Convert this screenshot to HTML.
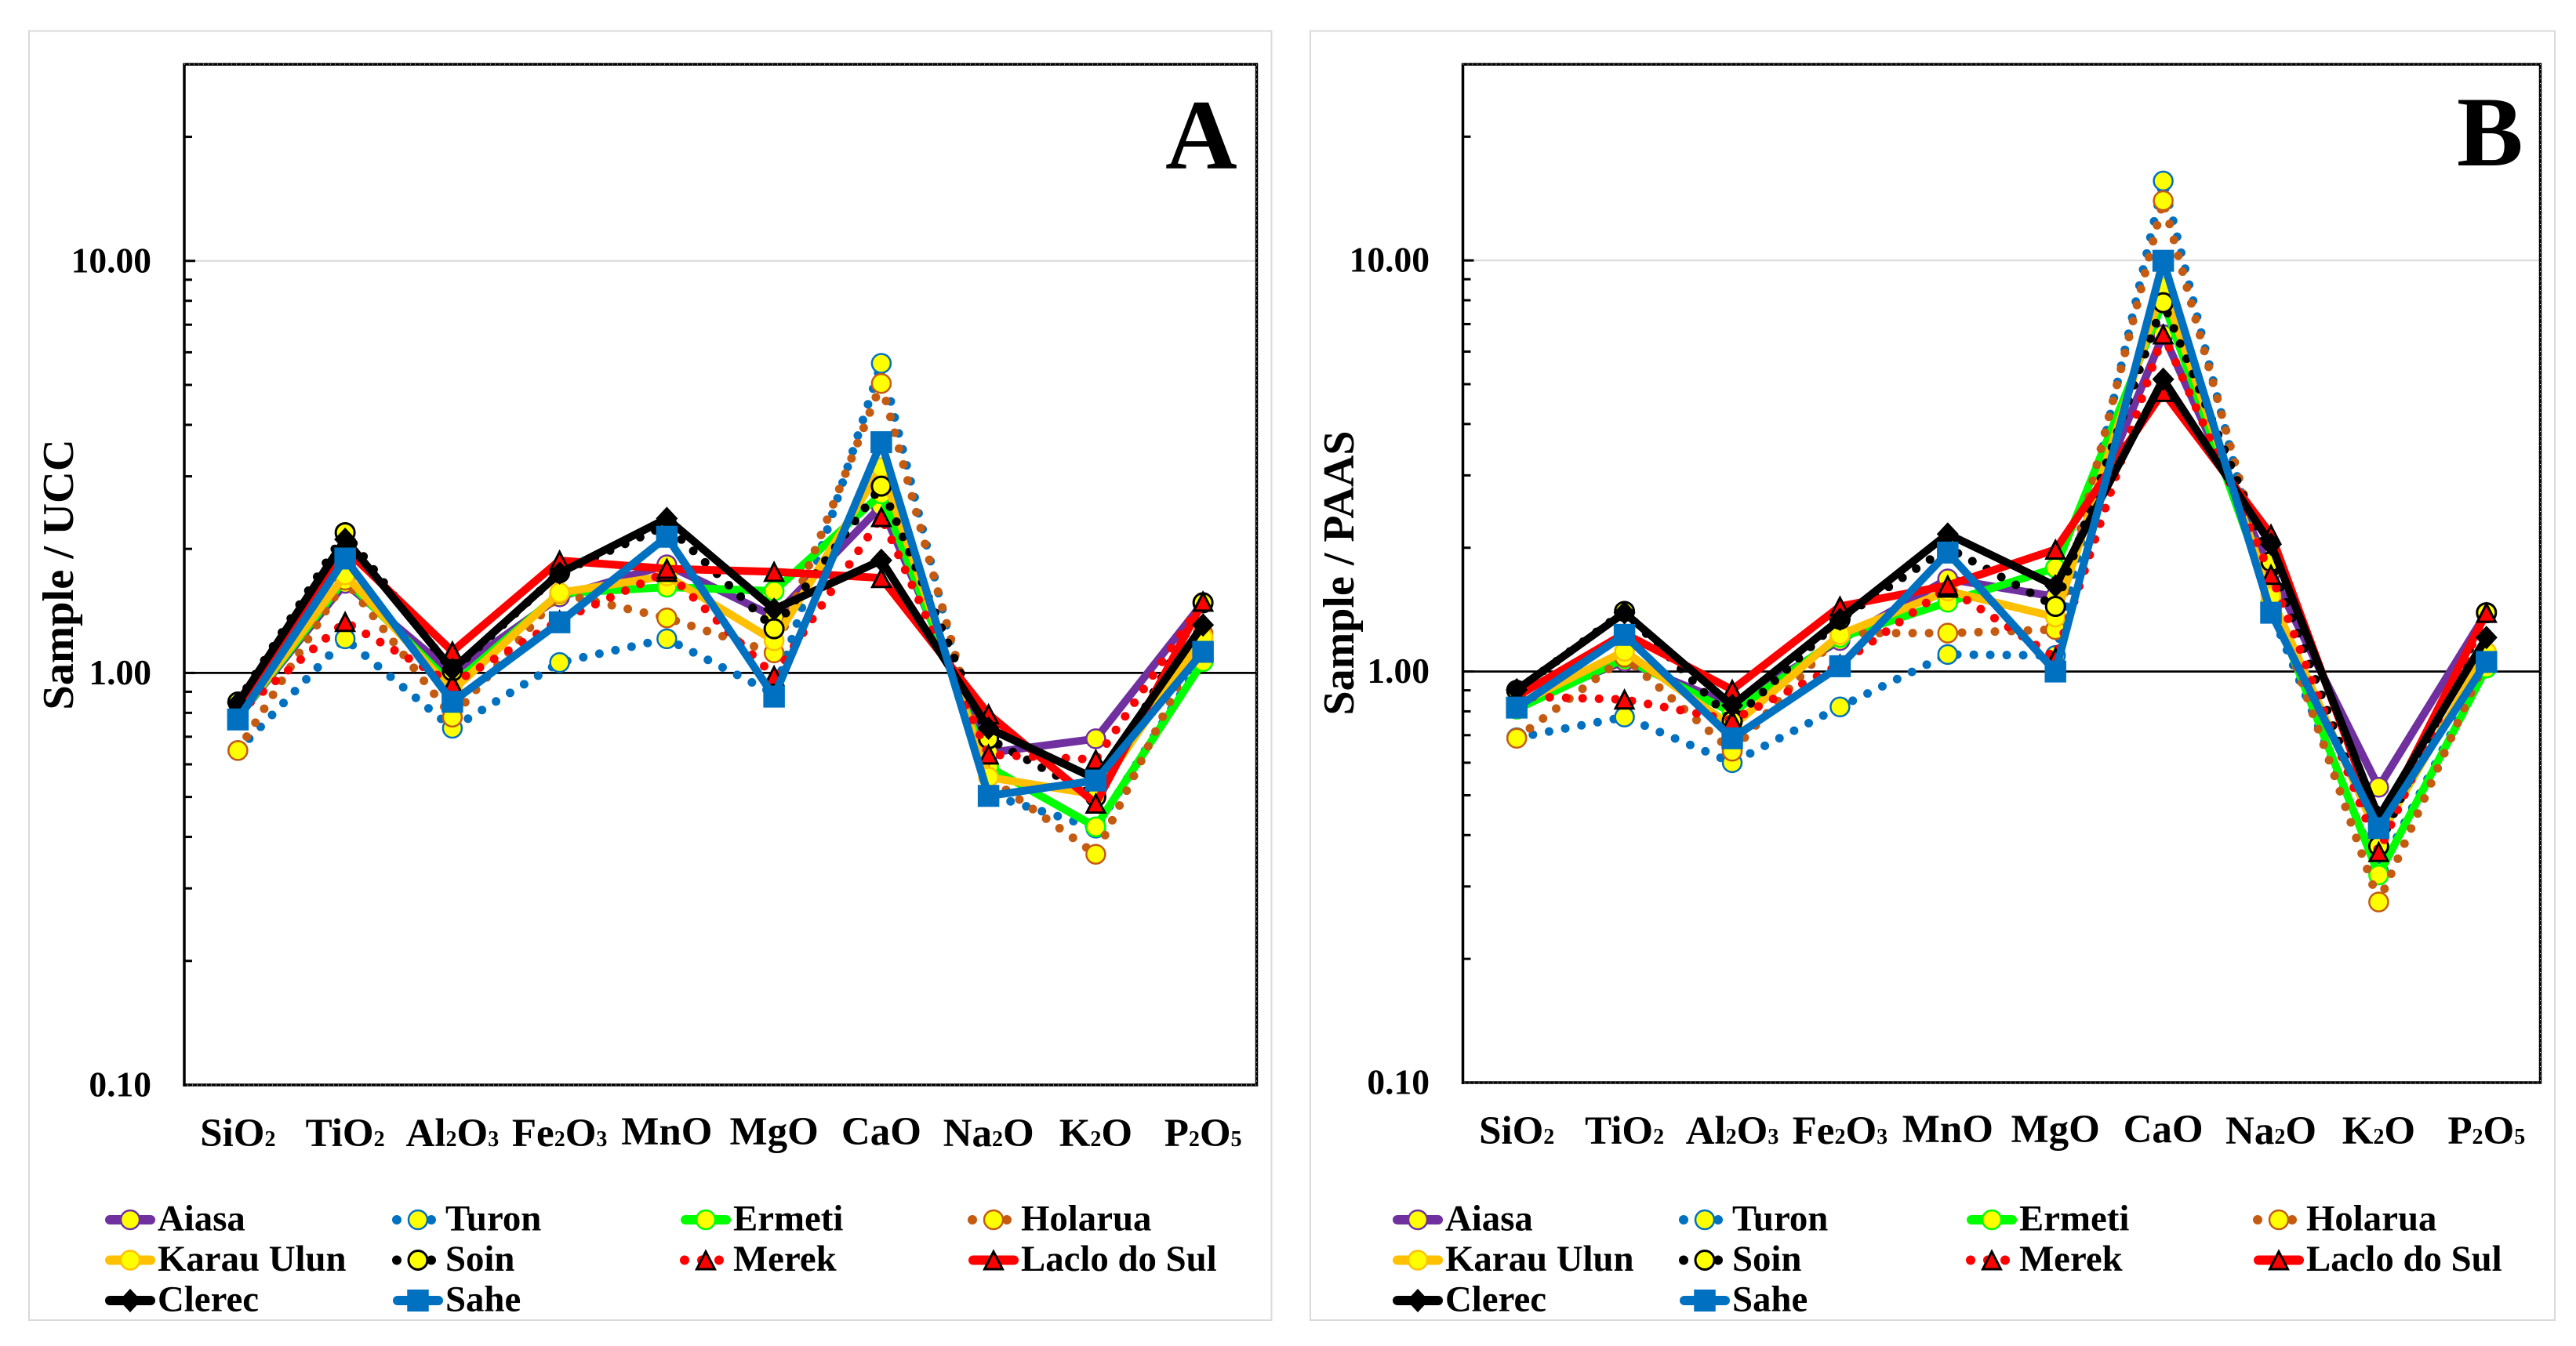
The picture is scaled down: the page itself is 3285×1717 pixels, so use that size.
<!DOCTYPE html>
<html lang="en">
<head>
<meta charset="utf-8">
<title>Sample / UCC and Sample / PAAS major oxide diagrams</title>
<style>
html,body{margin:0;padding:0;background:#fff;}
svg{display:block;}
text{font-family:"Liberation Serif","Times New Roman",serif;font-weight:bold;fill:#000;}
</style>
</head>
<body>
<svg id="figure" xmlns="http://www.w3.org/2000/svg" width="3285" height="1717" viewBox="0 0 3285 1717">
  <rect x="0" y="0" width="3285" height="1717" fill="#ffffff"/>
  <rect x="37" y="39.5" width="1584.5" height="1644.5" fill="#ffffff" stroke="#d9d9d9" stroke-width="2"/>
  <rect x="1671" y="39.5" width="1587" height="1644.5" fill="#ffffff" stroke="#d9d9d9" stroke-width="2"/>
  <g id="panel-a"></g>
  <g id="panel-b"></g>
  <text transform="translate(93 733) rotate(-90)" text-anchor="middle" font-size="56.5">Sample / UCC</text>
  <text transform="translate(1726 731) rotate(-90)" text-anchor="middle" font-size="56">Sample / PAAS</text>
  <text x="1486" y="215" font-size="127">A</text>
  <text x="3133" y="211" font-size="127">B</text>
</svg>
<script>
// Shared categories and labels
const categories = ['SiO₂','TiO₂','Al₂O₃','Fe₂O₃','MnO','MgO','CaO','Na₂O','K₂O','P₂O₅'];
const seriesNames = ['Aiasa','Turon','Ermeti','Holarua','Karau Ulun','Soin','Merek','Laclo do Sul','Clerec','Sahe'];
const yTickLabels = ['0.10','1.00','10.00'];
const yTickValues = [0.1,1,10];
const yMinorTicks = [0.2,0.3,0.4,0.5,0.6,0.7,0.8,0.9,2,3,4,5,6,7,8,9,20];

// Panel A: Sample / UCC
const aiasaA   = [0.78,1.65,1.00,1.53,1.83,1.37,2.54,0.64,0.692,1.48];
const turonA   = [0.648,1.21,0.734,1.06,1.21,0.89,5.64,0.507,0.42,1.08];
const ermetiA  = [0.78,1.69,0.935,1.56,1.615,1.58,2.72,0.592,0.423,1.065];
const holaruaA = [0.648,1.68,0.781,1.56,1.36,1.118,5.04,0.558,0.363,1.245];
const karauA   = [0.78,1.73,0.906,1.566,1.72,1.197,3.15,0.558,0.507,1.22];
const soinA    = [0.85,2.19,1.01,1.75,2.28,1.28,2.84,0.692,0.50,1.48];
const merekA   = [0.80,1.33,0.942,1.34,1.76,0.984,2.39,0.634,0.616,1.49];
const lacloA   = [0.83,2.0,1.128,1.874,1.79,1.76,1.70,0.794,0.482,1.49];
const clerecA  = [0.845,2.11,1.02,1.747,2.37,1.427,1.876,0.734,0.553,1.307];
const saheA    = [0.771,1.895,0.851,1.327,2.14,0.876,3.63,0.503,0.548,1.125];

// Panel B: Sample / PAAS
const aiasaB   = [0.83,1.06,0.83,1.19,1.68,1.52,6.6,1.75,0.523,1.39];
const turonB   = [0.69,0.775,0.60,0.82,1.10,1.094,15.6,1.4,0.325,1.03];
const ermetiB  = [0.81,1.076,0.795,1.21,1.474,1.786,7.94,1.48,0.32,1.02];
const holaruaB = [0.688,1.084,0.64,1.24,1.24,1.265,13.97,1.54,0.275,1.08];
const karauB   = [0.83,1.12,0.735,1.23,1.57,1.357,8.63,1.52,0.395,1.115];
const soinB    = [0.90,1.40,0.758,1.34,2.0,1.44,7.89,1.85,0.376,1.39];
const merekB   = [0.87,0.855,0.762,1.04,1.6,1.08,6.61,1.72,0.364,1.39];
const lacloB   = [0.87,1.237,0.903,1.44,1.62,1.98,4.79,2.155,0.42,1.39];
const clerecB  = [0.903,1.39,0.827,1.34,2.16,1.615,5.14,2.04,0.442,1.21];
const saheB    = [0.817,1.228,0.688,1.03,1.947,1.0,9.98,1.39,0.416,1.055];

const seriesA = [aiasaA,turonA,ermetiA,holaruaA,karauA,soinA,merekA,lacloA,clerecA,saheA];
const seriesB = [aiasaB,turonB,ermetiB,holaruaB,karauB,soinB,merekB,lacloB,clerecB,saheB];

const SVGNS = 'http://www.w3.org/2000/svg';
function make(tag, attrs, parent) {
  const el = document.createElementNS(SVGNS, tag);
  for (const k in attrs) { el.setAttribute(k, attrs[k]); }
  parent.appendChild(el);
  return el;
}
function slug(s) { return s.toLowerCase().replace(/ /g, '-'); }

function styleFor(i) {
  const dotted = {dash: '0 21', w: 11};
  const solid = {dash: null, w: 10};
  if (i === 0) return Object.assign({color:'#7030a0', kind:'circle', edge:'#7030a0'}, solid);
  if (i === 1) return Object.assign({color:'#0070c0', kind:'circle', edge:'#0070c0'}, dotted);
  if (i === 2) return Object.assign({color:'#00ff00', kind:'circle', edge:'#00ff00'}, solid);
  if (i === 3) return Object.assign({color:'#c55a11', kind:'circle', edge:'#c55a11'}, dotted);
  if (i === 4) return Object.assign({color:'#ffc000', kind:'circle', edge:'#ffc000'}, solid);
  if (i === 5) return Object.assign({color:'#000000', kind:'circle', edge:'#000000'}, dotted);
  if (i === 6) return Object.assign({color:'#ff0000', kind:'triangle', edge:'#000000'}, dotted);
  if (i === 7) return Object.assign({color:'#ff0000', kind:'triangle', edge:'#000000'}, solid);
  if (i === 8) return Object.assign({color:'#000000', kind:'diamond', edge:'#000000'}, solid);
  return Object.assign({color:'#0070c0', kind:'square', edge:'#0070c0'}, solid);
}

function drawMarker(parent, style, cx, cy) {
  if (style.kind === 'circle') {
    return make('circle', {cx: cx, cy: cy, r: 12, fill: '#ffff00', stroke: style.edge, 'stroke-width': style.edge === '#000000' ? 3 : 2.5}, parent);
  }
  if (style.kind === 'triangle') {
    const pts = cx + ',' + (cy - 11) + ' ' + (cx + 11.5) + ',' + (cy + 11.5) + ' ' + (cx - 11.5) + ',' + (cy + 11.5);
    return make('polygon', {points: pts, fill: '#ff0000', stroke: '#000000', 'stroke-width': 3, 'stroke-linejoin': 'miter'}, parent);
  }
  if (style.kind === 'diamond') {
    const pts = cx + ',' + (cy - 15) + ' ' + (cx + 14) + ',' + cy + ' ' + cx + ',' + (cy + 15) + ' ' + (cx - 14) + ',' + cy;
    return make('polygon', {points: pts, fill: '#000000'}, parent);
  }
  return make('rect', {x: cx - 13.75, y: cy - 14, width: 27.5, height: 28, fill: '#0070c0'}, parent);
}

function categoryLabel(parent, label, cx, baseline) {
  const hasSub = /[₀-₉]/.test(label);
  const t = make('text', {x: cx, y: baseline + (hasSub ? 2 : 0), 'text-anchor': 'middle', 'font-size': 51}, parent);
  let buffer = '';
  function flush() {
    if (buffer) {
      const run = make('tspan', {}, t);
      run.textContent = buffer;
      buffer = '';
    }
  }
  for (const ch of label) {
    const code = ch.codePointAt(0);
    if (code >= 0x2080 && code <= 0x2089) {
      flush();
      const sub = make('tspan', {'font-size': 28}, t);
      sub.textContent = String(code - 0x2080);
    } else {
      buffer += ch;
    }
  }
  flush();
  return t;
}

function drawPanel(root, series, left, right, top, bottom, labelRight, xBaseline, legendX, legendStep) {
  const domainMin = Math.log10(0.1);
  const domainMax = Math.log10(30);
  const yScale = function (v) { return bottom - (Math.log10(v) - domainMin) / (domainMax - domainMin) * (bottom - top); };
  const xScale = function (i) { return left + (i + 0.5) * (right - left) / categories.length; };

  // Gridline at 10 and baseline at 1
  const grid = make('line', {x1: left, x2: right, y1: yScale(10), y2: yScale(10), stroke: '#d9d9d9', 'stroke-width': 2}, root);
  
  

  // Y axis and ticks
  const axisY = make('line', {x1: left, x2: left, y1: top - 1.5, y2: bottom + 2, stroke: '#000', 'stroke-width': 3.5}, root);
  
  

  yMinorTicks.forEach(function (v) {
    const tick = make('line', {x1: left, x2: left + 10, y1: yScale(v), y2: yScale(v), stroke: '#000', 'stroke-width': 3}, root);
    
    
  });
  yTickValues.forEach(function (v, i) {
    const tick = make('line', {x1: left, x2: left + 14, y1: yScale(v), y2: yScale(v), stroke: '#000', 'stroke-width': 3}, root);
    
    
    const label = make('text', {x: labelRight, y: yScale(v) + 14.5, 'text-anchor': 'end', 'font-size': 45.5}, root);
    label.textContent = yTickLabels[i];
    
    
  });

  // Dotted plot-area border: top, right, bottom
  const borderPath = 'M' + left + ' ' + top + 'H' + right + 'V' + bottom + 'H' + left;
  const border = make('path', {d: borderPath, fill: 'none', stroke: '#000', 'stroke-width': 3.5}, root);
  
  
  const borderDots = make('path', {d: borderPath, fill: 'none', stroke: '#fff', 'stroke-width': 1, 'stroke-dasharray': '1 5'}, root);
  
  

  const unity = make('line', {x1: left, x2: right, y1: yScale(1), y2: yScale(1), stroke: '#000', 'stroke-width': 2.8}, root);
  
  

  // Category labels
  categories.forEach(function (c, i) {
    const label = categoryLabel(root, c, xScale(i), xBaseline);
    
    
  });

  // Series
  series.forEach(function (values, s) {
    const st = styleFor(s);
    const g = make('g', {}, root);
    
    
    const pts = values.map(function (v, i) { return xScale(i) + ',' + yScale(v); }).join(' ');
    const attrs = {points: pts, fill: 'none', stroke: st.color, 'stroke-width': st.w, 'stroke-linejoin': 'round', 'stroke-linecap': 'round'};
    if (st.dash) { attrs['stroke-dasharray'] = st.dash; }
    const line = make('polyline', attrs, g);
    
    
    values.forEach(function (v, i) {
      const m = drawMarker(g, st, xScale(i), yScale(v));
      
      
    });
  });

  // Legend
  const rowY = [1556, 1607.5, 1659];
  seriesNames.forEach(function (name, s) {
    const st = styleFor(s);
    const col = s % 4;
    const row = Math.floor(s / 4);
    const cx = legendX + col * legendStep;
    const cy = rowY[row];
    const item = make('g', {}, root);
    
    
    if (st.dash) {
      const d = make('line', {x1: cx - 27, x2: cx + 17.5, y1: cy, y2: cy, stroke: st.color, 'stroke-width': 12, 'stroke-linecap': 'round', 'stroke-dasharray': '0 22'}, item);
      
      
    } else {
      const l = make('line', {x1: cx - 26, x2: cx + 26, y1: cy, y2: cy, stroke: st.color, 'stroke-width': 12, 'stroke-linecap': 'round'}, item);
      
      
    }
    const mk = drawMarker(item, st, cx, cy);
    
    
    const tx = make('text', {x: cx + 35, y: cy + 13.5, 'font-size': 46.8}, item);
    tx.textContent = name;
    
    
  });
}

drawPanel(document.getElementById('panel-a'), seriesA, 235, 1602.5, 82, 1384, 193, 1460, 166, 367);
drawPanel(document.getElementById('panel-b'), seriesB, 1865.5, 3239.5, 82, 1381, 1823, 1457, 1808, 366);
</script>
</body>
</html>
